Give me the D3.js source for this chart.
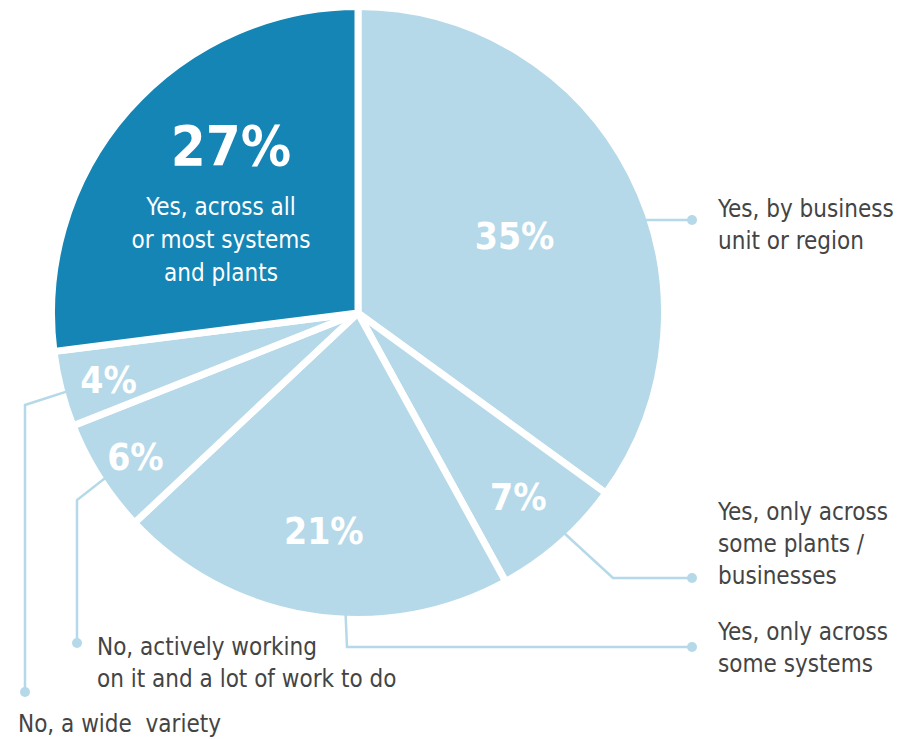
<!DOCTYPE html>
<html>

<head>
    <meta charset="utf-8" />
    <title>Pie chart</title>
    <style>
        body {
            margin: 0;
            background: #fff;
        }

        text {
            font-family: "DejaVu Sans Condensed", "Liberation Sans Narrow", sans-serif;
        }

        .outer-label {
            fill: #444;
            font-size: 24px;
        }

        .pct {
            fill: #fff;
            font-weight: bold;
        }

        .leader {
            fill: none;
            stroke: #b5d9e9;
            stroke-width: 2.5px;
        }
    </style>
</head>

<body>
    <div id="chart"></div>

    <script src="https://d3js.org/d3.v7.min.js"></script>
    <script>
        // slices, clockwise from 12 o'clock
        var categories = [
            "Yes, by business unit or region",
            "Yes, only across some plants / businesses",
            "Yes, only across some systems",
            "No, actively working on it and a lot of work to do",
            "No, a wide  variety",
            "Yes, across all or most systems and plants"
        ]
        var values = [35, 7, 21, 6, 4, 27]
        var labelLines = [
            ["Yes, by business", "unit or region"],
            ["Yes, only across", "some plants /", "businesses"],
            ["Yes, only across", "some systems"],
            ["No, actively working", "on it and a lot of work to do"],
            ["No, a wide\u00a0\u00a0variety"],
            ["Yes, across all", "or most systems", "and plants"]
        ]

        !(function() {
            "use strict"
            var width = 915,
                height = 739
            var cx = 358,
                cy = 313,
                R = 303

            var svg = d3.select("#chart").append("svg")
                .attr("width", width)
                .attr("height", height)

            var pie = d3.pie().sort(null).value(function(d) {
                return d
            })
            var arcs = pie(values)

            var arc = d3.arc().innerRadius(0).outerRadius(R + 3.5)

            var g = svg.append("g").attr("transform", "translate(" + [cx, cy] + ")")

            // point on the pie edge at a given angle (degrees clockwise from top)
            function edge(deg, r) {
                var a = deg * Math.PI / 180
                return [cx + (r || R) * Math.sin(a), cy - (r || R) * Math.cos(a)]
            }

            // leader lines: start on the pie edge, elbow, then dot
            var leaders = [
                { i: 0, angle: 72, elbow: null, dot: [692, 220], text: [718, 217] },
                { i: 1, angle: 137, elbow: [613, 578], dot: [692, 578], text: [718, 520] },
                { i: 2, angle: 182.5, elbow: [347, 647], dot: [692, 647], text: [718, 640] },
                { i: 3, angle: 237, elbow: [77, 500], dot: [77, 643], text: [97, 655] },
                { i: 4, angle: 255, elbow: [25, 405], dot: [25, 692], text: [18, 732] }
            ]

            var lg = svg.append("g")
            leaders.forEach(function(d) {
                var p0 = edge(d.angle, R - 10)
                var pts = [p0]
                if (d.elbow) pts.push(d.elbow)
                else pts[0] = [p0[0], d.dot[1]]
                pts.push(d.dot)
                lg.append("path")
                    .attr("class", "leader")
                    .attr("d", d3.line()(pts))
                lg.append("circle")
                    .attr("cx", d.dot[0])
                    .attr("cy", d.dot[1])
                    .attr("r", 5)
                    .attr("fill", "#b5d9e9")

                var t = svg.append("text")
                    .attr("class", "outer-label")
                    .attr("x", d.text[0])
                    .attr("y", d.text[1])
                labelLines[d.i].forEach(function(s, k) {
                    t.append("tspan")
                        .attr("x", d.text[0])
                        .attr("dy", k ? 32 : 0)
                        .text(s)
                })
            })

            var colors = ["#b5d9e9", "#b5d9e9", "#b5d9e9", "#b5d9e9", "#b5d9e9", "#1585b5"]

            g.selectAll("path")
                .data(arcs)
                .enter().append("path")
                .attr("d", arc)
                .attr("fill", function(d, i) {
                    return colors[i]
                })
                .attr("stroke", "#fff")
                .attr("stroke-width", 7)
                .attr("stroke-linejoin", "miter")

            // radius of percentage label inside each slice (fraction of R)
            var labelR = [0.58, 0.8, 0.72, 0.87, 0.85, 0.55]
            var sizes = [37, 37, 37, 37, 37, 56]

            g.selectAll("text.pct")
                .data(arcs)
                .enter().append("text")
                .attr("class", "pct")
                .attr("text-anchor", "middle")
                .attr("dominant-baseline", "central")
                .attr("font-size", function(d, i) {
                    return sizes[i] + "px"
                })
                .attr("transform", function(d, i) {
                    var r = labelR[i] * R
                    var c = d3.arc().innerRadius(r).outerRadius(r).centroid(d)
                    if (i === 5) c = [c[0] - 2, c[1] - 57]
                    else c = [c[0], c[1] + 3]
                    return "translate(" + c + ")"
                })
                .text(function(d) {
                    return d.value + "%"
                })

            // inner description for the dark slice
            var dark = arcs[5]
            var r5 = labelR[5] * R
            var c5 = d3.arc().innerRadius(r5).outerRadius(r5).centroid(dark)
            var inner = g.append("text")
                .attr("text-anchor", "middle")
                .attr("fill", "#fff")
                .attr("font-size", "24px")
                .attr("x", c5[0] - 12)
                .attr("y", c5[1] + 12)
            labelLines[5].forEach(function(s, k) {
                inner.append("tspan")
                    .attr("x", c5[0] - 12)
                    .attr("dy", k ? 33 : 0)
                    .text(s)
            })
        }());
    </script>
</body>

</html>
